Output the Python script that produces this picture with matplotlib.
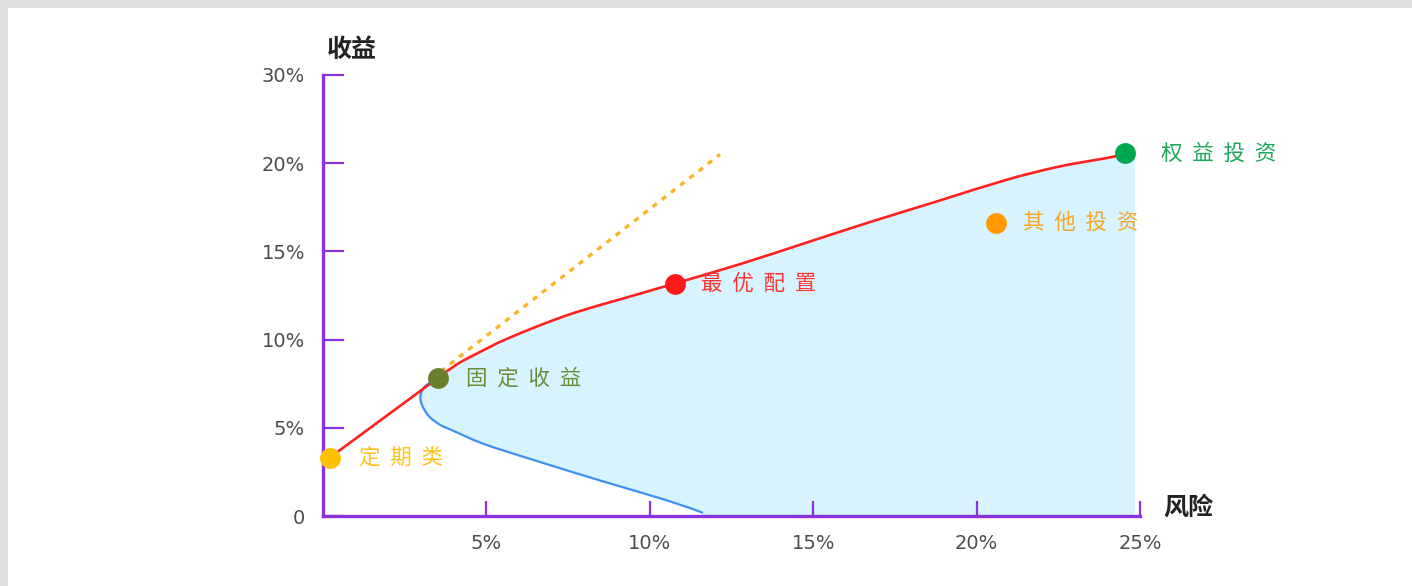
import numpy as np
import matplotlib
matplotlib.use("Agg")
import matplotlib.pyplot as plt
from matplotlib.patches import Rectangle, PathPatch
from matplotlib.path import Path

plt.rcParams['font.family'] = ['Noto Sans CJK SC', 'DejaVu Sans']

# ---- data (percent) ----
y_ticks = [0, 5, 10, 15, 20, 25]
y_tick_labels = ['0', '5%', '10%', '15%', '20%', '30%']
x_ticks = [5, 10, 15, 20, 25]
x_tick_labels = ['5%', '10%', '15%', '20%', '25%']

# efficient frontier (red): straight part then curved part
red_x = [0.2, 3.5, 4.1, 4.7, 5.7, 7.5, 9.5, 10.8, 12.8, 14.8, 16.8, 18.9, 20.9, 22.5, 24.0, 24.5]
red_y = [3.3, 7.8, 8.6, 9.2, 10.1, 11.4, 12.5, 13.2, 14.3, 15.5, 16.7, 17.9, 19.05, 19.8, 20.3, 20.5]
# lower boundary (blue)
blue_x = [3.5, 3.3, 3.1, 2.98, 3.05, 3.27, 3.6, 3.9, 4.9, 6.4, 8.5, 10.5, 11.6]
blue_y = [7.8, 7.6, 7.3, 6.8, 6.2, 5.6, 5.15, 4.9, 4.1, 3.2, 2.0, 0.9, 0.2]
# feasible region right edge
region_right = 24.85
# tangent (dotted)
tan_x = [3.6, 12.15]
tan_y = [8.2, 20.5]

points = ['定期类', '固定收益', '最优配置', '权益投资', '其他投资']
point_x = [0.2, 3.52, 10.77, 24.54, 20.6]
point_y = [3.3, 7.8, 13.15, 20.55, 16.6]
point_colors = ['#ffc000', '#6a7f2e', '#ff1a1a', '#00a64f', '#ff9a00']
label_colors = ['#ffc21a', '#6f8a3a', '#ff3535', '#1ea85a', '#f5a52a']
label_offsets = [21, 20, 19, 26, 19]


def smooth_path_parts(xs, ys):
    """Catmull-Rom curve through the given points, as Bezier vertices/codes (without MOVETO)."""
    pts = np.column_stack([xs, ys]).astype(float)
    verts, codes = [], []
    n = len(pts)
    for i in range(n - 1):
        p0 = pts[i - 1] if i > 0 else pts[i]
        p1, p2 = pts[i], pts[i + 1]
        p3 = pts[i + 2] if i + 2 < n else pts[i + 1]
        verts += [p1 + (p2 - p0) / 6, p2 - (p3 - p1) / 6, p2]
        codes += [Path.CURVE4] * 3
    return verts, codes


W, H = 1412, 586
fig = plt.figure(figsize=(W / 100, H / 100), dpi=100)
fig.patch.set_facecolor('#dedede')
fig.add_artist(Rectangle((8 / W, 0), 1 - 8 / W, (H - 8) / H, transform=fig.transFigure,
                         facecolor='white', edgecolor='none', zorder=-10))

ax = fig.add_axes([323 / W, (H - 516) / H, (1140 - 323) / W, (516 - 75) / H])
ax.set_facecolor('none')
ax.set_xlim(0, 25)
ax.set_ylim(0, 25)

# red curve path
rv, rc = smooth_path_parts(red_x[1:], red_y[1:])
red_verts = [(red_x[0], red_y[0]), (red_x[1], red_y[1])] + rv
red_codes = [Path.MOVETO, Path.LINETO] + rc
# blue curve path
bv, bc = smooth_path_parts(blue_x, blue_y)
blue_verts = [(blue_x[0], blue_y[0])] + bv
blue_codes = [Path.MOVETO] + bc

# feasible region
bv_r, bc_r = smooth_path_parts(blue_x[::-1], blue_y[::-1])
fill_verts = ([(red_x[1], red_y[1])] + rv +
              [(region_right, red_y[-1]), (region_right, 0), (blue_x[-1], 0)] + bv_r +
              [(red_x[1], red_y[1])])
fill_codes = ([Path.MOVETO] + rc + [Path.LINETO] * 3 + [Path.LINETO] + bc_r[1:] + [Path.CLOSEPOLY])
# note: first element of reversed blue segment handled as lineto to its first point
fill_verts = ([(red_x[1], red_y[1])] + rv +
              [(region_right, red_y[-1]), (region_right, 0), (blue_x[-1], 0),
               (blue_x[-1], blue_y[-1])] + bv_r + [(red_x[1], red_y[1])])
fill_codes = ([Path.MOVETO] + rc + [Path.LINETO] * 4 + bc_r + [Path.CLOSEPOLY])
ax.add_patch(PathPatch(Path(fill_verts, fill_codes), facecolor='#d7f3fd', edgecolor='none', zorder=1))

ax.add_patch(PathPatch(Path(blue_verts, blue_codes), facecolor='none', edgecolor='#3f8ff0',
                       lw=1.6, zorder=2, capstyle='round'))
ax.add_patch(PathPatch(Path(red_verts, red_codes), facecolor='none', edgecolor='#ff2020',
                       lw=1.9, zorder=3, capstyle='round'))
ax.plot(tan_x, tan_y, color='#f7b52c', lw=2.4, linestyle=(0, (1.6, 1.9)), zorder=3)

for name, x, y, c, lc, off in zip(points, point_x, point_y, point_colors, label_colors, label_offsets):
    ax.plot([x], [y], 'o', ms=15, color=c, mec='none', zorder=5, clip_on=False)
    ax.annotate('  '.join(name), (x, y), xytext=(off, 0), textcoords='offset points',
                ha='left', va='center', color=lc, fontsize=15.5, fontweight='medium', zorder=6)

# axes styling
purple = '#8a32e0'
for s in ['top', 'right']:
    ax.spines[s].set_visible(False)
for s in ['left', 'bottom']:
    ax.spines[s].set_color(purple)
    ax.spines[s].set_linewidth(2.4)
    ax.spines[s].set_zorder(4)

ax.set_yticks(y_ticks)
ax.set_yticklabels(y_tick_labels)
ax.set_xticks(x_ticks)
ax.set_xticklabels(x_tick_labels)
ax.tick_params(axis='y', direction='in', length=15, width=1.6, color=purple, pad=13,
               labelsize=14, labelcolor='#4d4d4d')
ax.tick_params(axis='x', direction='in', length=11, width=1.6, color=purple, pad=13,
               labelsize=14, labelcolor='#4d4d4d')
for lab in ax.get_xticklabels() + ax.get_yticklabels():
    lab.set_family(['DejaVu Sans'])

fig.text(352 / W, 1 - 50 / H, '收益', ha='center', va='center', fontsize=18,
         fontweight='bold', color='#222222')
fig.text(1188 / W, 1 - 508 / H, '风险', ha='center', va='center', fontsize=18,
         fontweight='bold', color='#222222')

fig.savefig('out.png', dpi=100)
